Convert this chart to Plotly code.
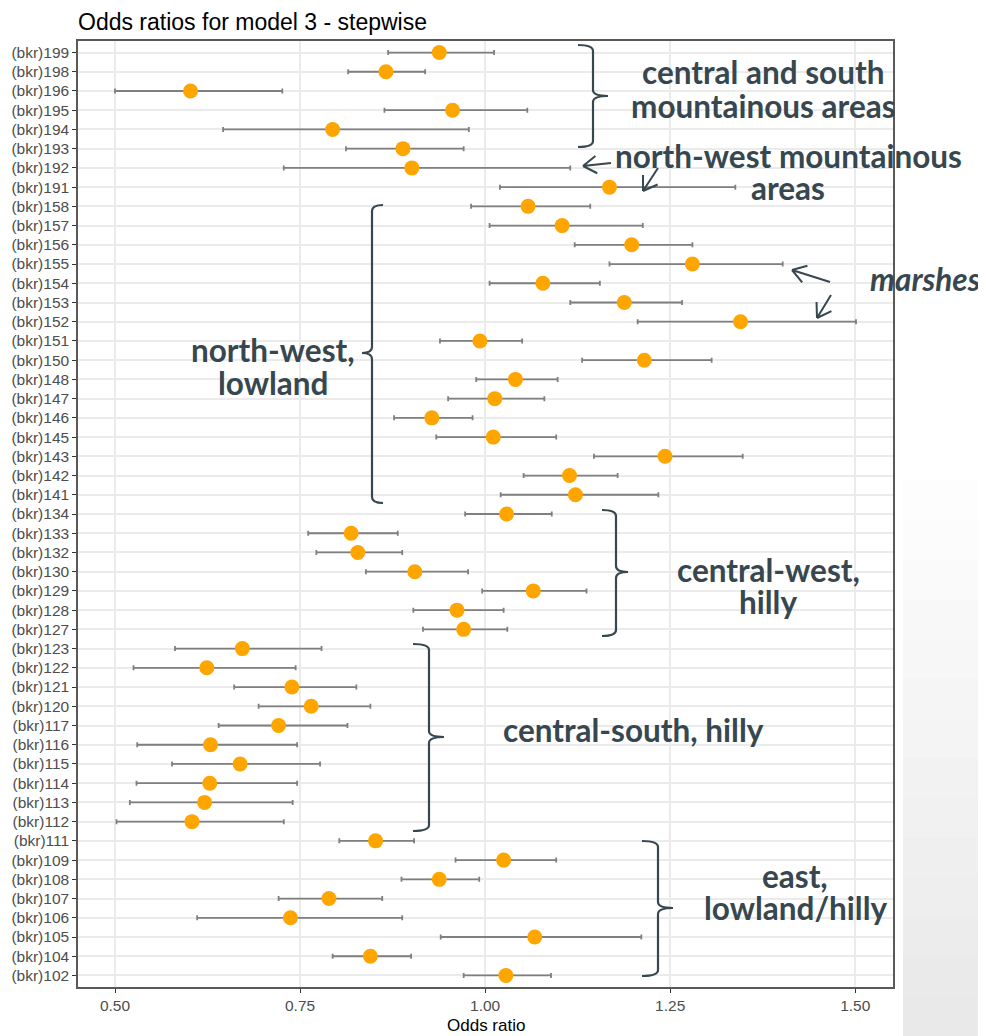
import math
import plotly.graph_objects as go

# ---------------- data ----------------
labels = ["(bkr)199", "(bkr)198", "(bkr)196", "(bkr)195", "(bkr)194", "(bkr)193", "(bkr)192", "(bkr)191",
          "(bkr)158", "(bkr)157", "(bkr)156", "(bkr)155", "(bkr)154", "(bkr)153", "(bkr)152", "(bkr)151",
          "(bkr)150", "(bkr)148", "(bkr)147", "(bkr)146", "(bkr)145", "(bkr)143", "(bkr)142", "(bkr)141",
          "(bkr)134", "(bkr)133", "(bkr)132", "(bkr)130", "(bkr)129", "(bkr)128", "(bkr)127",
          "(bkr)123", "(bkr)122", "(bkr)121", "(bkr)120", "(bkr)117", "(bkr)116", "(bkr)115", "(bkr)114",
          "(bkr)113", "(bkr)112", "(bkr)111",
          "(bkr)109", "(bkr)108", "(bkr)107", "(bkr)106", "(bkr)105", "(bkr)104", "(bkr)102"]

odds_ratio = [0.938, 0.866, 0.602, 0.956, 0.794, 0.889, 0.901, 1.168,
              1.058, 1.104, 1.198, 1.280, 1.078, 1.188, 1.345, 0.993,
              1.215, 1.041, 1.013, 0.928, 1.011, 1.243, 1.114, 1.122,
              1.029, 0.819, 0.828, 0.905, 1.065, 0.962, 0.971,
              0.672, 0.624, 0.739, 0.765, 0.721, 0.629, 0.669, 0.628,
              0.621, 0.604, 0.852,
              1.025, 0.938, 0.789, 0.737, 1.067, 0.845, 1.028]

ci_low = [0.869, 0.815, 0.500, 0.864, 0.646, 0.812, 0.728, 1.020,
          0.981, 1.006, 1.121, 1.168, 1.006, 1.115, 1.206, 0.939,
          1.131, 0.988, 0.950, 0.877, 0.934, 1.147, 1.052, 1.021,
          0.973, 0.761, 0.772, 0.839, 0.996, 0.903, 0.916,
          0.581, 0.525, 0.661, 0.694, 0.640, 0.530, 0.577, 0.529,
          0.520, 0.502, 0.803,
          0.960, 0.887, 0.721, 0.611, 0.940, 0.794, 0.971]

ci_high = [1.012, 0.919, 0.726, 1.057, 0.978, 0.971, 1.115, 1.338,
           1.142, 1.213, 1.280, 1.402, 1.155, 1.266, 1.501, 1.050,
           1.306, 1.098, 1.080, 0.983, 1.096, 1.348, 1.179, 1.234,
           1.090, 0.882, 0.888, 0.977, 1.137, 1.025, 1.030,
           0.779, 0.744, 0.826, 0.845, 0.814, 0.746, 0.777, 0.746,
           0.740, 0.728, 0.904,
           1.096, 0.992, 0.861, 0.888, 1.211, 0.900, 1.089]

x_ticks = [0.50, 0.75, 1.00, 1.25, 1.50]
x_tick_labels = ["0.50", "0.75", "1.00", "1.25", "1.50"]
reference_value = 1.0
title_text = "Odds ratios for model 3 - stepwise"
x_title = "Odds ratio"

# ---------------- geometry helpers ----------------
# the page body adds an 8px offset; the figure is sized so it ends at the window edge
OFF = 8
SCREEN_W, SCREEN_H = 986, 1036
FIG_W, FIG_H = SCREEN_W - OFF, SCREEN_H - OFF
PLOT_L, PLOT_R, PLOT_T, PLOT_B = 78, 893, 41, 987   # target plot area in window pixels
ML = PLOT_L - OFF
MT = PLOT_T - OFF
MR = SCREEN_W - PLOT_R
MB = SCREEN_H - PLOT_B
PW = FIG_W - ML - MR
PH = FIG_H - MT - MB


def xp(x):
    return (x - PLOT_L) / PW


def yp(y):
    return 1 - (y - PLOT_T) / PH


ANN_COLOR = "#37474F"
ANN_FONT = "Lato"

err_plus = [h - o for h, o in zip(ci_high, odds_ratio)]
err_minus = [o - l for o, l in zip(odds_ratio, ci_low)]

fig = go.Figure()
fig.add_trace(go.Scatter(
    x=odds_ratio, y=labels, mode="markers",
    marker=dict(color="#FFA500", size=15, line=dict(width=0)),
    error_x=dict(type="data", symmetric=False, array=err_plus, arrayminus=err_minus,
                 color="#7F7F7F", thickness=1.8, width=2.5),
    showlegend=False,
))

shapes = []

# light grey slide background at the right
n_bands = 14
y_start, y_end = 480, SCREEN_H
for i in range(n_bands):
    y0 = y_start + (y_end - y_start) * i / n_bands
    y1 = y_start + (y_end - y_start) * (i + 1) / n_bands
    g = int(round(254 - (254 - 232) * (i + 0.5) / n_bands))
    shapes.append(dict(type="rect", xref="paper", yref="paper",
                       x0=xp(903), x1=xp(SCREEN_W + 2), y0=yp(y1 + 0.5), y1=yp(y0),
                       fillcolor=f"rgb({g},{g},{g})", line=dict(width=0), layer="below"))

# reference line at 1
shapes.append(dict(type="line", xref="x", yref="paper", x0=reference_value, x1=reference_value,
                   y0=0, y1=1, line=dict(color="black", width=1, dash="3px,3px"), layer="between"))


def brace(xb, xs, xt, yt, ym, yb, r=6):
    pts = [
        f"M {xp(xb)},{yp(yt)}",
        f"Q {xp(xs)},{yp(yt)} {xp(xs)},{yp(yt + r)}",
        f"L {xp(xs)},{yp(ym - r)}",
        f"Q {xp(xs)},{yp(ym)} {xp(xt)},{yp(ym)}",
        f"Q {xp(xs)},{yp(ym)} {xp(xs)},{yp(ym + r)}",
        f"L {xp(xs)},{yp(yb - r)}",
        f"Q {xp(xs)},{yp(yb)} {xp(xb)},{yp(yb)}",
    ]
    return dict(type="path", xref="paper", yref="paper", path=" ".join(pts),
                line=dict(color=ANN_COLOR, width=2.2), layer="above")


shapes.append(brace(578, 593, 608, 45, 96, 147))
shapes.append(brace(383, 372, 362, 205, 353, 503))
shapes.append(brace(602, 616, 628, 510, 572, 636))
shapes.append(brace(413, 429, 444, 644, 737, 831))
shapes.append(brace(642, 658, 673, 841, 908, 976))


def arrow(tip, tail, arm=16, ang=33):
    tx, ty = tip
    dx, dy = tail[0] - tx, tail[1] - ty
    n = math.hypot(dx, dy)
    ux, uy = dx / n, dy / n
    parts = [f"M {xp(tail[0])},{yp(tail[1])} L {xp(tx)},{yp(ty)}"]
    for sgn in (1, -1):
        a = math.radians(ang) * sgn
        vx = ux * math.cos(a) - uy * math.sin(a)
        vy = ux * math.sin(a) + uy * math.cos(a)
        parts.append(f"M {xp(tx)},{yp(ty)} L {xp(tx + vx * arm)},{yp(ty + vy * arm)}")
    return dict(type="path", xref="paper", yref="paper", path=" ".join(parts),
                line=dict(color=ANN_COLOR, width=2), layer="above")


shapes.append(arrow((583, 166), (611, 163)))
shapes.append(arrow((643, 191), (658, 168)))
shapes.append(arrow((792, 270), (830, 282)))
shapes.append(arrow((817, 318), (831, 295)))

annotations = []


def label(text, cx, cy, size=31.5, italic=False):
    t = f"<b>{text}</b>"
    if italic:
        t = f"<i>{t}</i>"
    annotations.append(dict(text=t, xref="paper", yref="paper", x=xp(cx), y=yp(cy),
                            xanchor="center", yanchor="middle", showarrow=False,
                            font=dict(family=ANN_FONT, size=size, color=ANN_COLOR)))


label("central and south", 763, 72)
label("mountainous areas", 763, 106)
label("north-west mountainous", 788, 156)
label("areas", 788, 188)
label("marshes", 925, 279, italic=True)
label("north-west,", 273, 350)
label("lowland", 273, 383)
label("central-west,", 768, 570)
label("hilly", 768, 602)
label("central-south, hilly", 633, 730)
label("east,", 795, 876)
label("lowland/hilly", 795, 908)

# axis title as annotation
annotations.append(dict(text=x_title, xref="paper", yref="paper", x=0.5, y=yp(1025),
                        xanchor="center", yanchor="middle", showarrow=False,
                        font=dict(family="Liberation Sans", size=17, color="black")))

tick_font = dict(family="Liberation Sans", size=15.5, color="#4D4D4D")

fig.update_layout(
    width=FIG_W, height=FIG_H,
    margin=dict(l=ML, r=MR, t=MT, b=MB, pad=0, autoexpand=False),
    paper_bgcolor="white", plot_bgcolor="white",
    title=dict(text=title_text, x=(PLOT_L - OFF) / FIG_W, xanchor="left", xref="container",
               y=1 - (21.5 - OFF) / FIG_H, yanchor="middle",
               font=dict(family="Liberation Sans", size=23, color="black")),
    xaxis=dict(range=[0.45, 1.551], tickvals=x_ticks, ticktext=x_tick_labels,
               automargin=False,
               showgrid=True, gridcolor="#EBEBEB", gridwidth=1.5, zeroline=False,
               ticks="outside", ticklen=4, tickcolor="#333333", tickwidth=1,
               showline=True, linecolor="#595959", linewidth=1.5, mirror=True,
               tickfont=tick_font),
    yaxis=dict(type="category", categoryorder="array", categoryarray=labels,
               range=[len(labels) - 1 + 0.6, -0.6], automargin=False,
               showgrid=True, gridcolor="#EBEBEB", gridwidth=1.5, zeroline=False,
               ticks="outside", ticklen=4, tickcolor="#333333", tickwidth=1,
               showline=True, linecolor="#595959", linewidth=1.5, mirror=True,
               tickfont=tick_font),
    shapes=shapes,
    annotations=annotations,
    font=dict(family="Liberation Sans"),
)

fig.write_html("out.html")
